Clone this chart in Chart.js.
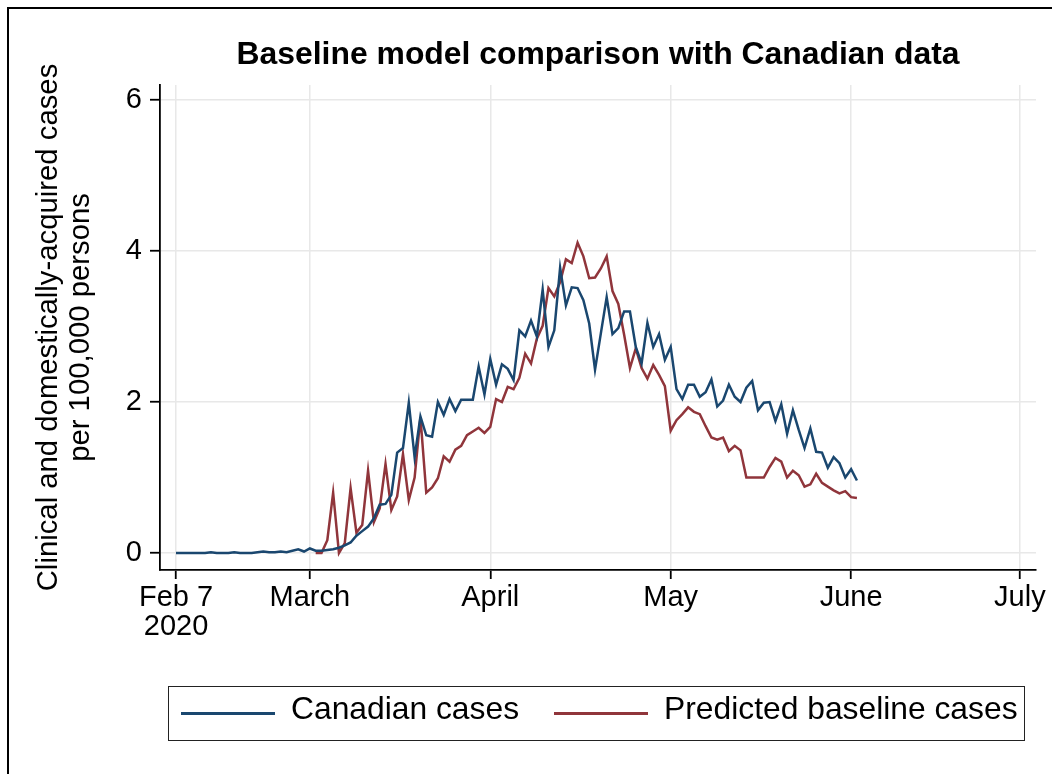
<!DOCTYPE html>
<html>
<head>
<meta charset="utf-8">
<script src="https://cdn.jsdelivr.net/npm/chart.js@4.4.1/dist/chart.umd.min.js"></script>
<style>
  html, body { margin: 0; padding: 0; background: #fff; overflow: hidden; }
  #wrap { position: relative; width: 1052px; height: 774px; }
  #frame { position: absolute; left: 7px; top: 7px; width: 1100px; height: 820px;
           border: 2px solid #000; box-sizing: border-box; pointer-events: none; }
  canvas { position: absolute; left: 0; top: 0; }
  #legend { position: absolute; left: 168px; top: 686px; width: 857px; height: 55px;
            border: 1.5px solid #222; box-sizing: border-box; display: flex; align-items: center;
            padding-left: 12px; font-family: "Liberation Sans", Arial, sans-serif;
            font-size: 31.8px; color: #000; white-space: nowrap; }
  #legend .item { display: flex; align-items: center; margin-right: 35px; }
  #legend .swatch { width: 94px; height: 2.4px; margin-right: 16px; }
  #legend .label { position: relative; top: -5px; }
</style>
</head>
<body>
<div id="wrap">
  <canvas id="chart" width="1052" height="774"></canvas>
  <div id="frame"></div>
  <div id="legend"></div>
</div>
<script>
// Days counted from 7 February 2020 (day 0)
const canadianStartDay = 0;
const canadianCases = [
  0.00, 0.00, 0.00, 0.00, 0.00, 0.00, 0.01, 0.00, 0.00, 0.00,
  0.01, 0.00, 0.00, 0.00, 0.01, 0.02, 0.01, 0.01, 0.02, 0.01,
  0.03, 0.05, 0.02, 0.06, 0.03, 0.03, 0.04, 0.05, 0.07, 0.10,
  0.14, 0.23, 0.29, 0.35, 0.46, 0.64, 0.65, 0.77, 1.33, 1.39,
  1.99, 1.27, 1.81, 1.56, 1.54, 2.00, 1.83, 2.04, 1.88, 2.03,
  2.03, 2.03, 2.47, 2.10, 2.57, 2.23, 2.50, 2.44, 2.29, 2.95,
  2.87, 3.08, 2.87, 3.49, 2.73, 2.95, 3.78, 3.28, 3.52, 3.51,
  3.35, 3.04, 2.43, 2.91, 3.39, 2.90, 2.98, 3.20, 3.20, 2.73,
  2.51, 3.05, 2.73, 2.90, 2.56, 2.73, 2.17, 2.04, 2.23, 2.23,
  2.07, 2.13, 2.30, 1.94, 2.02, 2.23, 2.07, 2.00, 2.19, 2.28,
  1.89, 1.99, 2.00, 1.75, 1.97, 1.58, 1.89, 1.63, 1.39, 1.65,
  1.34, 1.33, 1.13, 1.27, 1.19, 1.00, 1.11, 0.96
];

const predictedStartDay = 24;
const predictedCases = [
  0.00, 0.00, 0.17, 0.80, 0.00, 0.13, 0.86, 0.27, 0.37, 1.09,
  0.41, 0.59, 1.18, 0.57, 0.75, 1.31, 0.70, 1.00, 1.80, 0.80,
  0.87, 0.99, 1.28, 1.21, 1.37, 1.42, 1.56, 1.61, 1.66, 1.59,
  1.67, 2.04, 2.00, 2.20, 2.17, 2.32, 2.64, 2.51, 2.84, 3.01,
  3.51, 3.40, 3.59, 3.89, 3.84, 4.11, 3.93, 3.64, 3.65, 3.77,
  3.93, 3.47, 3.30, 2.89, 2.45, 2.71, 2.45, 2.31, 2.49, 2.36,
  2.21, 1.62, 1.76, 1.84, 1.93, 1.87, 1.84, 1.68, 1.53, 1.50,
  1.53, 1.35, 1.42, 1.36, 1.00, 1.00, 1.00, 1.00, 1.14, 1.26,
  1.21, 1.00, 1.09, 1.03, 0.88, 0.91, 1.05, 0.93, 0.88, 0.83,
  0.79, 0.82, 0.74, 0.73
];

const xTickDays = [0, 23, 54, 85, 116, 145];
const xTickLabels = [["Feb 7", "2020"], "March", "April", "May", "June", "July"];
const yTickValues = [0, 2, 4, 6];
const yTitle = ["Clinical and domestically-acquired cases", "per 100,000 persons"];
const chartTitle = "Baseline model comparison with Canadian data";
const seriesNames = ["Canadian cases", "Predicted baseline cases"];

const NAVY = "#1a476f";
const MAROON = "#90353b";
const GRID = "#e8e8e8";
const FONT = "'Liberation Sans', Arial, sans-serif";

function toPoints(start, values) {
  return values.map((v, i) => ({ x: start + i, y: v }));
}

const chart = new Chart(document.getElementById("chart"), {
  type: "line",
  data: {
    datasets: [
      { label: seriesNames[0], data: toPoints(canadianStartDay, canadianCases),
        borderColor: NAVY, backgroundColor: NAVY, borderWidth: 2.5,
        pointRadius: 0, tension: 0, fill: false },
      { label: seriesNames[1], data: toPoints(predictedStartDay, predictedCases),
        borderColor: MAROON, backgroundColor: MAROON, borderWidth: 2.5,
        pointRadius: 0, tension: 0, fill: false }
    ]
  },
  options: {
    responsive: false,
    animation: false,
    layout: { padding: { left: 8, top: 0, right: 16, bottom: 124 } },
    plugins: {
      legend: { display: false },
      tooltip: { enabled: false },
      title: {
        display: true, text: chartTitle, fullSize: false, color: "#000",
        font: { family: FONT, size: 31.9, weight: "bold", lineHeight: 1.2 },
        padding: { top: 36, bottom: 10.7 }
      }
    },
    scales: {
      x: {
        type: "linear", min: -2.75, max: 147.77,
        afterBuildTicks: s => { s.ticks = xTickDays.map(v => ({ value: v })); },
        afterFit: s => { s.height = 80; },
        ticks: {
          autoSkip: false, maxRotation: 0, minRotation: 0, padding: 4, color: "#000",
          font: { family: FONT, size: 29, lineHeight: 1.0 },
          callback: v => xTickLabels[xTickDays.indexOf(v)]
        },
        grid: { color: GRID, lineWidth: 1.5, tickColor: "#000", tickLength: 9, tickWidth: 1.8 },
        border: { color: "#000", width: 1.8 }
      },
      y: {
        type: "linear", min: -0.225, max: 6.2,
        afterBuildTicks: s => { s.ticks = yTickValues.map(v => ({ value: v })); },
        afterFit: s => { s.width = 152; },
        ticks: {
          padding: 8, color: "#000",
          font: { family: FONT, size: 29, lineHeight: 1.0 },
          callback: v => String(v)
        },
        grid: { color: GRID, lineWidth: 1.5, tickColor: "#000", tickLength: 10, tickWidth: 1.8 },
        border: { color: "#000", width: 1.8 },
        title: {
          display: true, text: yTitle, color: "#000",
          font: { family: FONT, size: 29.3, lineHeight: 1.1 },
          padding: { top: 25, bottom: 0 }
        }
      }
    }
  }
});

// Boxed legend beneath the plot, built from the chart's datasets
const legendEl = document.getElementById("legend");
chart.data.datasets.forEach(ds => {
  const item = document.createElement("div");
  item.className = "item";
  const sw = document.createElement("span");
  sw.className = "swatch";
  sw.style.background = ds.borderColor;
  const lab = document.createElement("span");
  lab.className = "label";
  lab.textContent = ds.label;
  item.appendChild(sw);
  item.appendChild(lab);
  legendEl.appendChild(item);
});
</script>
</body>
</html>
